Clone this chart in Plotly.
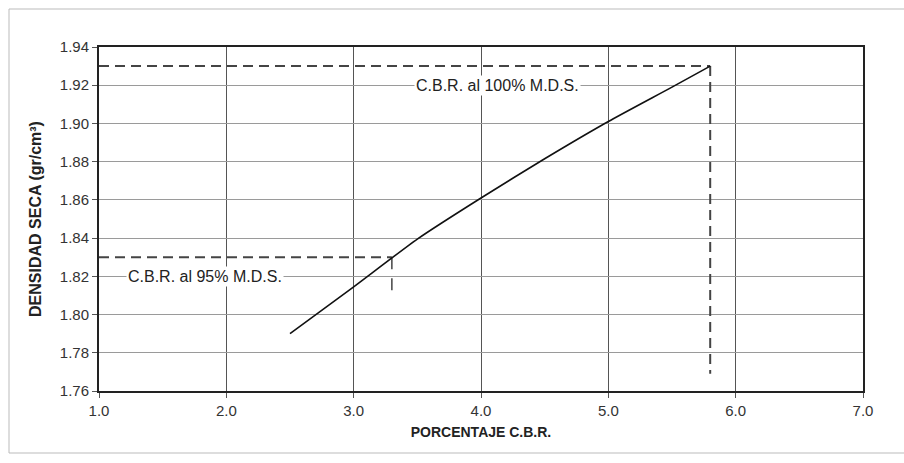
import plotly.graph_objects as go

# CBR curve: percentage CBR vs dry density
cbr = [2.5, 3.0, 3.5, 4.0, 4.5, 5.0, 5.5, 5.8]
densidad = [1.790, 1.8145, 1.8395, 1.861, 1.8815, 1.901, 1.919, 1.930]

# Reference readings at 95% and 100% of maximum dry density
cbr_95, dens_95, dens_95_low = 3.3, 1.830, 1.809
cbr_100, dens_100, dens_100_low = 5.8, 1.930, 1.769
x_min, x_max = 1.0, 7.0
y_min, y_max = 1.76, 1.94

x_ticks = [1.0, 2.0, 3.0, 4.0, 5.0, 6.0, 7.0]
y_ticks = [1.76, 1.78, 1.80, 1.82, 1.84, 1.86, 1.88, 1.90, 1.92, 1.94]

W, H = 904, 463
ml, mr, mt, mb = 99, 41, 47, 72
pw, ph = W - ml - mr, H - mt - mb

def px(p):
    return (p - ml) / pw

def py(p):
    return (H - mb - p) / ph

FONT = "Liberation Sans, Arial, sans-serif"
dash_style = dict(color="#444444", width=2, dash="10px,6px")

fig = go.Figure()

# 95% guide lines
fig.add_trace(go.Scatter(x=[x_min, cbr_95], y=[dens_95, dens_95], mode="lines",
                         line=dash_style, hoverinfo="skip", showlegend=False))
fig.add_trace(go.Scatter(x=[cbr_95, cbr_95], y=[dens_95, dens_95_low], mode="lines",
                         line=dict(color="#444444", width=1.5, dash="12px,9px"),
                         hoverinfo="skip", showlegend=False))
# 100% guide lines
fig.add_trace(go.Scatter(x=[x_min, cbr_100], y=[dens_100, dens_100], mode="lines",
                         line=dash_style, hoverinfo="skip", showlegend=False))
fig.add_trace(go.Scatter(x=[cbr_100, cbr_100], y=[dens_100, dens_100_low], mode="lines",
                         line=dash_style, hoverinfo="skip", showlegend=False))

# CBR curve
fig.add_trace(go.Scatter(x=cbr, y=densidad, mode="lines",
                         line=dict(color="#111111", width=1.6, shape="spline", smoothing=0.6),
                         showlegend=False))

label_font = dict(family=FONT, size=16, color="#222222")
fig.add_annotation(x=1.83, y=1.82, text="C.B.R. al 95% M.D.S.", showarrow=False,
                   bgcolor="white", font=label_font, xanchor="center", yanchor="middle")
fig.add_annotation(x=4.13, y=1.92, text="C.B.R. al 100% M.D.S.", showarrow=False,
                   bgcolor="white", font=label_font, xanchor="center", yanchor="middle")

# outer frame around the chart
fig.add_shape(type="rect", xref="paper", yref="paper",
              x0=px(9), x1=px(915), y0=py(453), y1=py(9),
              line=dict(color="#bbbbbb", width=1), fillcolor="rgba(0,0,0,0)", layer="below")

axis_common = dict(showgrid=True, gridwidth=1,
                   showline=True, linecolor="#222222", linewidth=2, mirror=True,
                   ticks="outside", ticklen=5, tickcolor="#555555", zeroline=False,
                   tickfont=dict(family=FONT, size=15, color="#333333"))

fig.update_layout(
    width=W, height=H,
    margin=dict(l=ml, r=mr, t=mt, b=mb),
    paper_bgcolor="white", plot_bgcolor="white",
    xaxis=dict(range=[x_min, x_max], tickvals=x_ticks, gridcolor="#555555",
               ticktext=[f"{v:.1f}" for v in x_ticks],
               title=dict(text="<b>PORCENTAJE C.B.R.</b>", standoff=9,
                          font=dict(family=FONT, size=14, color="#222222")),
               **axis_common),
    yaxis=dict(range=[y_min, y_max], tickvals=y_ticks, gridcolor="#9a9a9a",
               ticktext=[f"{v:.2f}" for v in y_ticks],
               title=dict(text="<b>DENSIDAD SECA (gr/cm³)</b>", standoff=14,
                          font=dict(family=FONT, size=16, color="#222222")),
               **axis_common),
)

fig.write_html("out.html")
